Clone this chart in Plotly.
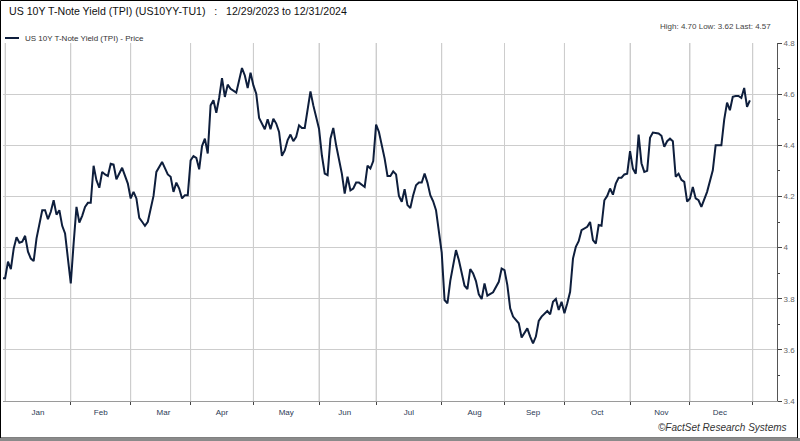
import plotly.graph_objects as go

# ---- data ----
dates = [
    "2023-12-29", "2024-01-01", "2024-01-02", "2024-01-03", "2024-01-04", "2024-01-05",
    "2024-01-08", "2024-01-09", "2024-01-10", "2024-01-11", "2024-01-12", "2024-01-15",
    "2024-01-16", "2024-01-17", "2024-01-18", "2024-01-19", "2024-01-22", "2024-01-23",
    "2024-01-24", "2024-01-25", "2024-01-26", "2024-01-29", "2024-01-30", "2024-01-31",
    "2024-02-01", "2024-02-02", "2024-02-05", "2024-02-06", "2024-02-07", "2024-02-08",
    "2024-02-09", "2024-02-12", "2024-02-13", "2024-02-14", "2024-02-15", "2024-02-16",
    "2024-02-19", "2024-02-20", "2024-02-21", "2024-02-22", "2024-02-23", "2024-02-27",
    "2024-02-28", "2024-02-29", "2024-03-01", "2024-03-04", "2024-03-05", "2024-03-06",
    "2024-03-07", "2024-03-08", "2024-03-11", "2024-03-12", "2024-03-13", "2024-03-14",
    "2024-03-15", "2024-03-18", "2024-03-20", "2024-03-21", "2024-03-22", "2024-03-25",
    "2024-03-26", "2024-03-27", "2024-03-28", "2024-03-29", "2024-04-01", "2024-04-02",
    "2024-04-03", "2024-04-04", "2024-04-05", "2024-04-08", "2024-04-09", "2024-04-10",
    "2024-04-11", "2024-04-12", "2024-04-15", "2024-04-16", "2024-04-17", "2024-04-18",
    "2024-04-19", "2024-04-23", "2024-04-25", "2024-04-26", "2024-04-29", "2024-04-30",
    "2024-05-01", "2024-05-02", "2024-05-03", "2024-05-06", "2024-05-07", "2024-05-08",
    "2024-05-09", "2024-05-10", "2024-05-13", "2024-05-14", "2024-05-15", "2024-05-16",
    "2024-05-17", "2024-05-20", "2024-05-21", "2024-05-22", "2024-05-23", "2024-05-24",
    "2024-05-27", "2024-05-29", "2024-05-30", "2024-06-03", "2024-06-04", "2024-06-05",
    "2024-06-06", "2024-06-07", "2024-06-10", "2024-06-11", "2024-06-13", "2024-06-14",
    "2024-06-17", "2024-06-18", "2024-06-19", "2024-06-20", "2024-06-21", "2024-06-25",
    "2024-06-26", "2024-06-27", "2024-06-28", "2024-07-01", "2024-07-02", "2024-07-04",
    "2024-07-05", "2024-07-08", "2024-07-09", "2024-07-10", "2024-07-11", "2024-07-12",
    "2024-07-15", "2024-07-16", "2024-07-17", "2024-07-18", "2024-07-19", "2024-07-22",
    "2024-07-23", "2024-07-24", "2024-07-25", "2024-07-26", "2024-07-29", "2024-07-30",
    "2024-07-31", "2024-08-01", "2024-08-02", "2024-08-05", "2024-08-06", "2024-08-07",
    "2024-08-08", "2024-08-09", "2024-08-12", "2024-08-13", "2024-08-14", "2024-08-15",
    "2024-08-16", "2024-08-19", "2024-08-20", "2024-08-21", "2024-08-22", "2024-08-23",
    "2024-08-27", "2024-08-28", "2024-08-29", "2024-08-30", "2024-09-02", "2024-09-03",
    "2024-09-04", "2024-09-05", "2024-09-09", "2024-09-10", "2024-09-11", "2024-09-12",
    "2024-09-13", "2024-09-16", "2024-09-17", "2024-09-18", "2024-09-19", "2024-09-23",
    "2024-09-24", "2024-09-25", "2024-09-26", "2024-09-27", "2024-09-30", "2024-10-01",
    "2024-10-02", "2024-10-03", "2024-10-04", "2024-10-07", "2024-10-08", "2024-10-09",
    "2024-10-11", "2024-10-14", "2024-10-15", "2024-10-16", "2024-10-17", "2024-10-18",
    "2024-10-21", "2024-10-22", "2024-10-23", "2024-10-24", "2024-10-25", "2024-10-28",
    "2024-10-29", "2024-10-30", "2024-10-31", "2024-11-01", "2024-11-04", "2024-11-05",
    "2024-11-06", "2024-11-07", "2024-11-08", "2024-11-11", "2024-11-12", "2024-11-13",
    "2024-11-15", "2024-11-18", "2024-11-19", "2024-11-20", "2024-11-21", "2024-11-22",
    "2024-11-25", "2024-11-26", "2024-11-27", "2024-11-28", "2024-11-29", "2024-12-02",
    "2024-12-03", "2024-12-04", "2024-12-05", "2024-12-06", "2024-12-10", "2024-12-11",
    "2024-12-12", "2024-12-13", "2024-12-16", "2024-12-17", "2024-12-18", "2024-12-19",
    "2024-12-20", "2024-12-23", "2024-12-24", "2024-12-25", "2024-12-26", "2024-12-27",
    "2024-12-30", "2024-12-31",
]

yields = [
    3.880, 3.880, 3.945, 3.916, 3.996, 4.040,
    4.019, 4.023, 4.046, 3.984, 3.957, 3.947,
    4.036, 4.094, 4.146, 4.146, 4.111, 4.140,
    4.185, 4.129, 4.146, 4.085, 4.055, 3.957,
    3.860, 4.016, 4.159, 4.098, 4.124, 4.159,
    4.175, 4.175, 4.320, 4.263, 4.234, 4.296,
    4.286, 4.280, 4.328, 4.325, 4.267, 4.312,
    4.277, 4.250, 4.192, 4.218, 4.192, 4.116,
    4.101, 4.085, 4.101, 4.159, 4.202, 4.296,
    4.316, 4.335, 4.286, 4.277, 4.218, 4.254,
    4.231, 4.192, 4.205, 4.205, 4.341, 4.358,
    4.351, 4.306, 4.397, 4.426, 4.368, 4.556,
    4.576, 4.527, 4.585, 4.663, 4.589, 4.637,
    4.621, 4.606, 4.702, 4.673, 4.624, 4.684,
    4.634, 4.602, 4.507, 4.485, 4.463, 4.502,
    4.463, 4.504, 4.485, 4.452, 4.359, 4.380,
    4.420, 4.442, 4.416, 4.433, 4.478, 4.468,
    4.468, 4.611, 4.556, 4.465, 4.361, 4.289,
    4.283, 4.426, 4.468, 4.400, 4.289, 4.211,
    4.277, 4.224, 4.231, 4.254, 4.254, 4.237,
    4.320, 4.309, 4.338, 4.481, 4.452, 4.348,
    4.280, 4.280, 4.298, 4.286, 4.202, 4.179,
    4.228, 4.166, 4.155, 4.205, 4.244, 4.254,
    4.254, 4.289, 4.254, 4.205, 4.181, 4.146,
    4.062, 3.980, 3.795, 3.782, 3.870, 3.930,
    3.990, 3.951, 3.906, 3.851, 3.838, 3.916,
    3.899, 3.869, 3.817, 3.799, 3.860, 3.812,
    3.825, 3.843, 3.866, 3.918, 3.912, 3.853,
    3.762, 3.730, 3.704, 3.648, 3.665, 3.684,
    3.652, 3.625, 3.652, 3.713, 3.730, 3.752,
    3.739, 3.788, 3.799, 3.756, 3.788, 3.743,
    3.782, 3.827, 3.957, 4.003, 4.025, 4.068,
    4.081, 4.100, 4.029, 4.016, 4.088, 4.085,
    4.185, 4.202, 4.231, 4.207, 4.250, 4.273,
    4.273, 4.286, 4.289, 4.377, 4.309, 4.289,
    4.442, 4.330, 4.296, 4.300, 4.429, 4.450,
    4.446, 4.437, 4.394, 4.416, 4.426, 4.416,
    4.277, 4.289, 4.265, 4.257, 4.180, 4.192,
    4.237, 4.192, 4.185, 4.159, 4.218, 4.263,
    4.302, 4.400, 4.400, 4.400, 4.500, 4.567,
    4.537, 4.590, 4.593, 4.593, 4.585, 4.624,
    4.550, 4.576,
]

# month boundaries (vertical grid lines) and y ticks
month_starts = [
    "2024-01-01", "2024-02-01", "2024-03-01", "2024-04-01", "2024-05-01",
    "2024-06-03", "2024-07-01", "2024-08-01", "2024-09-02", "2024-10-01",
    "2024-11-01", "2024-12-02", "2025-01-01",
]
y_tick_values = [3.4, 3.6, 3.8, 4.0, 4.2, 4.4, 4.6, 4.8]
y_tick_labels = ["3.4", "3.6", "3.8", "4", "4.2", "4.4", "4.6", "4.8"]

title_text = "US 10Y T-Note Yield (TPI) (US10YY-TU1)   :   12/29/2023 to 12/31/2024"
legend_text = "US 10Y T-Note Yield (TPI) - Price"
stats_text = "High: 4.70 Low: 3.62 Last: 4.57"
credit_text = "©FactSet Research Systems"

LINE_COLOR = "#0e1e3c"
GRID = "#cdcdcd"
FONT = "Liberation Sans, Arial, sans-serif"

# plot area in pixels: x 3..777, y 43..401
L, R, T, B = 3, 777, 43, 401
W, H = 800, 441


def px(x):
    return (x - L) / (R - L)


def py(y):
    return (B - y) / (B - T)


fig = go.Figure()
fig.add_trace(go.Scatter(
    x=dates, y=yields, mode="lines",
    line=dict(color=LINE_COLOR, width=2),
    hoverinfo="skip", showlegend=False,
))

fig.update_layout(
    width=W, height=H,
    margin=dict(l=L, r=W - R, t=T, b=H - B),
    paper_bgcolor="white", plot_bgcolor="white",
    font=dict(family=FONT, size=8, color="#333"),
    showlegend=False,
    xaxis=dict(
        type="date",
        range=["2023-12-29 06:00", "2025-01-13 12:00"],
        rangebreaks=[dict(bounds=["sat", "mon"])],
        tick0="2024-01-01", dtick="M1", tickformat="%b",
        ticklabelmode="period",
        showgrid=True, gridcolor=GRID, gridwidth=1,
        ticks="outside", ticklen=3, tickcolor="#444",
        showline=True, linecolor="#9a9a9a", linewidth=1,
        tickfont=dict(size=8, color="#2b3a55"),
        zeroline=False, fixedrange=True,
    ),
    yaxis=dict(
        side="right", range=[3.4, 4.8],
        tickmode="array", tickvals=y_tick_values, ticktext=y_tick_labels,
        showgrid=True, gridcolor=GRID, gridwidth=1,
        ticks="outside", ticklen=4, tickcolor="#444",
        showline=True, linecolor="#555", linewidth=1,
        minor=dict(tick0=3.4, dtick=0.1, ticks="outside", ticklen=2,
                   tickcolor="#444", showgrid=False),
        tickfont=dict(size=8, color="#666"),
        zeroline=False, fixedrange=True,
    ),
)

annotations = [
    dict(text=title_text, x=px(7), y=py(11), xanchor="left", yanchor="middle",
         font=dict(size=10.6, color="#111")),
    dict(text=legend_text, x=px(23), y=py(38), xanchor="left", yanchor="middle",
         font=dict(size=8, color="#333")),
    dict(text=stats_text, x=px(773), y=py(26), xanchor="right", yanchor="middle",
         font=dict(size=8, color="#444")),
    dict(text="<i>" + credit_text + "</i>", x=px(789), y=py(427), xanchor="right",
         yanchor="middle", font=dict(size=10, color="#333")),
]
for a in annotations:
    a.update(xref="paper", yref="paper", showarrow=False)
fig.update_layout(annotations=annotations)

shapes = []
# vertical month grid lines, placed through the x axis
for d in month_starts:
    shapes.append(dict(type="line", xref="x", yref="y", x0=d, x1=d, y0=3.4, y1=4.8,
                       line=dict(color=GRID, width=1), layer="between"))
# legend sample line
shapes.append(dict(type="line", xref="paper", yref="paper",
                   x0=px(5), x1=px(19), y0=py(38), y1=py(38),
                   line=dict(color=LINE_COLOR, width=2), layer="above"))
# outer frame
shapes.append(dict(type="rect", xref="paper", yref="paper",
                   x0=px(0.5), x1=px(797.5), y0=py(0.5), y1=py(438),
                   line=dict(color="#000", width=1), layer="above"))
shapes.append(dict(type="line", xref="paper", yref="paper",
                   x0=px(0), x1=px(800), y0=py(439.5), y1=py(439.5),
                   line=dict(color="#8a8a8a", width=3), layer="above"))
fig.update_layout(shapes=shapes)

fig.write_html("out.html", config=dict(displayModeBar=False))
